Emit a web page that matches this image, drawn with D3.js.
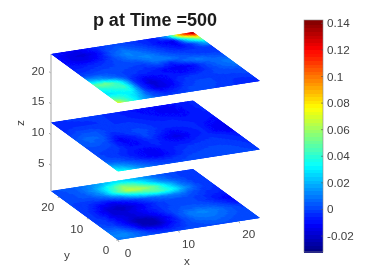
<!DOCTYPE html>
<html>
<head>
<meta charset="utf-8">
<script src="https://cdn.jsdelivr.net/npm/d3@7"></script>
<style>
    html, body { margin: 0; padding: 0; background: #fff; }
    text { font-family: "Liberation Sans", Arial, sans-serif; fill: #404040; font-size: 11.7px; }
</style>
</head>
<body>
<div id="chart-container"></div>
<script>
const titleText = "p at Time =500";
const xTicks = [0, 10, 20];
const yTicks = [0, 10, 20];
const zTicks = [5, 10, 15, 20];
const colorTicks = [-0.02, 0, 0.02, 0.04, 0.06, 0.08, 0.1, 0.12, 0.14];
const colorDomain = [-0.032, 0.1425];
const layerLevels = [23, 12, 1];

// rows run from y=0 to y=23, columns from x=0 to x=23.5
const layerTop = [
    [.08,.045,.02,.006,.0,.001,.002,.001,.0,-.002,-.004,-.006],
    [.05,.04,.024,.002,-.006,-.003,.001,.002,.001,-.001,-.004,-.002],
    [.028,.032,.034,-.001,-.016,-.012,-.002,.001,.001,.0,.0,.001],
    [.034,.04,.044,-.003,-.018,-.012,-.004,-.001,.0,.001,.002,.003],
    [.05,.054,.036,-.002,-.012,-.008,-.007,-.009,-.006,.0,.006,.009],
    [.022,.018,.008,.0,-.003,-.005,-.009,-.012,-.01,.002,.008,.011],
    [.002,.003,.003,.001,.0,-.002,.002,-.005,.006,.011,.006,.004],
    [-.004,-.002,.0,.001,.002,.002,.011,.012,.006,.002,.0,-.001],
    [-.006,-.006,-.004,-.001,.004,.011,.013,.006,.0,-.002,-.002,.001],
    [-.008,-.013,-.013,-.006,.006,.013,.008,.002,-.004,-.01,.001,.025],
    [-.008,-.015,-.017,-.01,.003,.008,.003,-.002,-.009,-.014,.035,.07],
    [-.004,-.011,-.013,-.006,.0,.002,.0,-.004,-.006,.02,.1,.14]
];
const layerMid = [
    [.04,.03,.014,.005,.002,.002,.002,.003,.003,.003,.002,.001],
    [.024,.016,.007,.001,-.002,-.001,.001,.002,.002,.002,.001,-.001],
    [.008,.005,-.001,-.008,-.012,-.007,-.002,.0,.001,.001,.0,-.003],
    [.002,.0,-.004,-.009,-.013,-.007,-.004,-.002,-.001,-.001,-.002,-.004],
    [.001,.0,-.002,-.006,-.007,-.004,-.007,-.008,-.004,-.002,-.004,-.008],
    [.002,.002,.0,-.01,-.008,-.002,-.01,-.015,-.008,-.004,-.01,-.014],
    [.004,.006,.002,-.012,-.006,.002,-.004,-.01,-.006,-.004,-.01,-.013],
    [.004,.008,.006,-.005,-.001,.003,-.001,-.004,-.004,-.004,-.007,-.01],
    [.0,.004,.005,.0,-.001,.0,-.002,-.004,-.004,-.006,-.006,-.006],
    [-.003,.0,.0,-.002,-.002,-.002,-.004,-.006,-.008,-.01,-.007,-.004],
    [-.005,-.004,-.003,-.002,-.002,-.004,-.006,-.008,-.011,-.012,-.006,-.004],
    [-.004,-.002,-.001,-.001,-.002,-.004,-.007,-.009,-.01,-.01,-.006,-.004]
];
const layerBottom = [
    [.01,.01,.007,.003,.002,.002,.002,.002,.002,.002,.002,.002],
    [.012,.014,.006,-.004,-.008,-.003,.002,.004,.006,.004,.002,.001],
    [.008,.007,-.003,-.02,-.022,-.01,.001,.008,.01,.008,.004,.001],
    [.003,.0,-.01,-.024,-.024,-.012,.001,.011,.013,.01,.004,.0],
    [.001,-.002,-.012,-.017,-.014,-.007,.001,.005,.006,.004,-.001,-.008],
    [.001,-.004,-.016,-.017,-.011,-.005,.0,.002,.002,.0,-.007,-.011],
    [.001,-.004,-.017,-.021,-.016,-.007,.0,.002,.002,.0,-.004,-.006],
    [.001,-.002,-.009,-.014,-.007,.0,.006,.011,.011,.004,-.001,-.003],
    [.001,.0,.0,.003,.012,.027,.04,.046,.035,.014,.002,-.002],
    [.001,.003,.005,.014,.04,.066,.064,.052,.028,.009,.0,-.002],
    [.002,.003,.007,.018,.038,.056,.046,.028,.012,.004,-.001,-.002],
    [.003,.004,.007,.012,.02,.028,.023,.015,.007,.002,.0,-.001]
];
const layers = [layerTop, layerMid, layerBottom];

const svg = d3.select("#chart-container").append("svg")
    .attr("width", 367)
    .attr("height", 278)
    .style("display", "block");

svg.append("filter").attr("id", "soft")
    .append("feGaussianBlur").attr("stdDeviation", 0.4);

const root = svg.append("g").attr("filter", "url(#soft)");

// Oblique view: every data axis adds its own shift on screen
const xToPx = d3.scaleLinear().domain([0, 23.5]).range([0, 142]);
const xToPy = d3.scaleLinear().domain([0, 23.5]).range([0, -22]);
const yToPx = d3.scaleLinear().domain([0, 23]).range([0, -67]);
const yToPy = d3.scaleLinear().domain([0, 23]).range([0, -49]);
const zToPy = d3.scaleLinear().domain([1, 23]).range([240, 103]);
const originX = 118;

function project(x, y, z) {
    return [originX + xToPx(x) + yToPx(y), zToPy(z) + xToPy(x) + yToPy(y)];
}

// jet colormap with 64 steps like the colorbar
function jet(t) {
    const c = v => Math.round(255 * Math.max(0, Math.min(1, v)));
    return `rgb(${c(1.5 - Math.abs(4 * t - 3))},${c(1.5 - Math.abs(4 * t - 2))},${c(1.5 - Math.abs(4 * t - 1))})`;
}
const steps = 64;
const stepColors = d3.range(steps).map(i => jet((i + 0.5) / steps));
const colorScale = d3.scaleQuantize().domain(colorDomain).range(stepColors);

// z axis line behind the surfaces
root.append("line")
    .attr("x1", 51).attr("x2", 51)
    .attr("y1", project(0, 23, 23)[1]).attr("y2", project(0, 23, 1)[1])
    .attr("stroke", "#c2c2c2").attr("stroke-width", 1.5);

// Surfaces: each grid cell is shaded in small pieces between its four corners
const pieces = 5;
layers.forEach((grid, k) => {
    const z = layerLevels[k];
    const nx = grid[0].length - 1, ny = grid.length - 1;
    const cells = [];
    for (let j = 0; j < ny; j++) {
        for (let i = 0; i < nx; i++) {
            for (let q = 0; q < pieces; q++) {
                for (let p = 0; p < pieces; p++) {
                    const u = (p + 0.5) / pieces, w = (q + 0.5) / pieces;
                    const v = d3.interpolate(
                        d3.interpolate(grid[j][i], grid[j][i + 1])(u),
                        d3.interpolate(grid[j + 1][i], grid[j + 1][i + 1])(u))(w);
                    const x0 = (i + p / pieces) / nx * 23.5, x1 = (i + (p + 1) / pieces) / nx * 23.5;
                    const y0 = (j + q / pieces) / ny * 23, y1 = (j + (q + 1) / pieces) / ny * 23;
                    cells.push({v, pts: [project(x0, y0, z), project(x1, y0, z), project(x1, y1, z), project(x0, y1, z)]});
                }
            }
        }
    }
    // strokes hide the seams between pieces, the clip keeps the outline sharp
    svg.append("clipPath").attr("id", `plane${k}`)
        .append("polygon")
        .attr("points", [project(0, 0, z), project(23.5, 0, z), project(23.5, 23, z), project(0, 23, z)].join(" "));
    root.append("g").attr("clip-path", `url(#plane${k})`).selectAll("polygon")
        .data(cells)
        .enter().append("polygon")
        .attr("points", d => d.pts.join(" "))
        .attr("fill", d => colorScale(d.v))
        .attr("stroke", d => colorScale(d.v))
        .attr("stroke-width", 1.3);
});

// x, y and z ticks
xTicks.forEach(t => {
    const [px, py] = project(t, 0, 1);
    root.append("line").attr("x1", px).attr("y1", py).attr("x2", px + 1).attr("y2", py + 2)
        .attr("stroke", "#8a8a8a").attr("stroke-width", 0.7);
    root.append("text").attr("x", px + 10).attr("y", py + 17).attr("text-anchor", "middle").text(t);
});
yTicks.forEach(t => {
    const [px, py] = project(0, t, 1);
    root.append("line").attr("x1", px).attr("y1", py).attr("x2", px - 2).attr("y2", py)
        .attr("stroke", "#8a8a8a").attr("stroke-width", 0.7);
    root.append("text").attr("x", px - 12).attr("y", py + 14).attr("text-anchor", "middle").text(t);
});
const zAxis = d3.scaleLinear().domain([5, 20]).range([165, 72.7]);
zTicks.forEach(t => {
    root.append("line").attr("x1", 50.5).attr("y1", zAxis(t)).attr("x2", 49).attr("y2", zAxis(t) - 1)
        .attr("stroke", "#8a8a8a").attr("stroke-width", 0.7);
    root.append("text").attr("x", 44.5).attr("y", zAxis(t) + 2).attr("text-anchor", "end").text(t);
});

root.append("text").attr("x", 187).attr("y", 265).attr("text-anchor", "middle").text("x");
root.append("text").attr("x", 67).attr("y", 259).attr("text-anchor", "middle").text("y");
root.append("text").attr("text-anchor", "middle")
    .attr("transform", "translate(24,123) rotate(-90)").text("z");

root.append("text")
    .attr("x", 155).attr("y", 26)
    .attr("text-anchor", "middle")
    .style("font-size", "18px").style("font-weight", "bold").style("fill", "#1a1a1a")
    .text(titleText);

// Colorbar
const barY = d3.scaleLinear().domain(colorDomain).range([252, 20]);
const bandY = d3.scaleBand().domain(d3.range(steps)).range([252, 20]);
root.append("g").attr("shape-rendering", "crispEdges").selectAll("rect")
    .data(stepColors)
    .enter().append("rect")
    .attr("x", 304)
    .attr("y", (d, i) => bandY(i))
    .attr("width", 19)
    .attr("height", bandY.bandwidth() + 1)
    .attr("fill", d => d);
root.append("rect").attr("x", 304).attr("y", 20).attr("width", 19).attr("height", 232)
    .attr("fill", "none").attr("stroke", "#8a8a8a").attr("stroke-width", 0.6);
colorTicks.forEach(t => {
    root.append("line").attr("x1", 321).attr("x2", 323).attr("y1", barY(t)).attr("y2", barY(t))
        .attr("stroke", "#555").attr("stroke-width", 0.6);
    root.append("text").attr("x", 327).attr("y", barY(t) + 4).text(t);
});
</script>
</body>
</html>
